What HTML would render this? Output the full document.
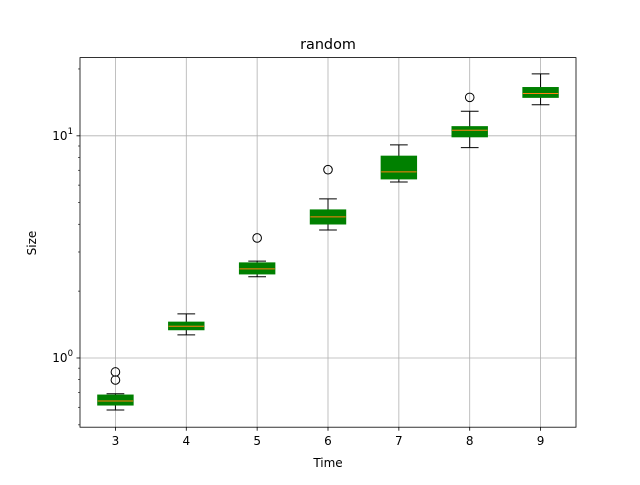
<!DOCTYPE html>
<html><head><meta charset="utf-8"><style>
body{margin:0;background:#fff;}
svg text{font-family:"DejaVu Sans","Liberation Sans",sans-serif;fill:#000;}
</style></head><body>
<svg id="chart" width="640" height="480" viewBox="0 0 640 480" xmlns="http://www.w3.org/2000/svg">
<rect width="640" height="480" fill="#fff"/>
<g id="grid"></g><g id="boxes"></g><g id="axes"></g>
<text x="328" y="49" font-size="14.4" text-anchor="middle">random</text>
<text x="328" y="467" font-size="12" text-anchor="middle">Time</text>
<text x="36" y="243" font-size="12" text-anchor="middle" transform="rotate(-90 36 243)">Size</text>
</svg>
<script>
const categories=[3,4,5,6,7,8,9];
const lowWhisker=[0.583,1.27,2.32,3.77,6.2,8.85,13.8];
const q1=[0.614,1.34,2.39,4.01,6.4,9.9,14.9];
const median=[0.64,1.39,2.52,4.32,6.88,10.6,15.5];
const q3=[0.681,1.45,2.68,4.64,8.1,11.0,16.5];
const highWhisker=[0.69,1.58,2.73,5.2,9.1,12.9,19.0];
const outliers=[[0.796,0.865],[],[3.47],[7.04],[],[14.9],[]];
const L=80,R=576,T=57.6,B=427.2,xmin=2.5,xmax=9.5,ymin=0.488,ymax=22.5;
const NS="http://www.w3.org/2000/svg";
const X=v=>L+(v-xmin)/(xmax-xmin)*(R-L);
const Y=v=>B-(Math.log10(v)-Math.log10(ymin))/(Math.log10(ymax)-Math.log10(ymin))*(B-T);
function mk(p,tag,a){const e=document.createElementNS(NS,tag);for(const k in a)e.setAttribute(k,a[k]);document.getElementById(p).appendChild(e);return e;}
// grid
categories.forEach(c=>{const e=mk('grid','line',{x1:X(c),x2:X(c),y1:T,y2:B,stroke:'#b0b0b0','stroke-width':0.8});

});
[1,10].forEach(v=>{const e=mk('grid','line',{x1:L,x2:R,y1:Y(v),y2:Y(v),stroke:'#b0b0b0','stroke-width':0.8});

});
// boxes
const hw=0.25*(R-L)/(xmax-xmin),cw=hw/2;
categories.forEach((c,i)=>{const x=X(c);
const g=mk('boxes','g',{});


const ln=(x1,y1,x2,y2,col)=>{const e=document.createElementNS(NS,'line');e.setAttribute('x1',x1);e.setAttribute('x2',x2);e.setAttribute('y1',y1);e.setAttribute('y2',y2);e.setAttribute('stroke',col||'#000');e.setAttribute('stroke-width',1);g.appendChild(e);};
ln(x,Y(lowWhisker[i]),x,Y(q1[i]));ln(x,Y(q3[i]),x,Y(highWhisker[i]));
ln(x-cw,Y(lowWhisker[i]),x+cw,Y(lowWhisker[i]));ln(x-cw,Y(highWhisker[i]),x+cw,Y(highWhisker[i]));
const r=document.createElementNS(NS,'rect');r.setAttribute('x',x-hw);r.setAttribute('y',Y(q3[i]));r.setAttribute('width',2*hw);r.setAttribute('height',Y(q1[i])-Y(q3[i]));r.setAttribute('fill','#008000');r.setAttribute('stroke','#008000');g.appendChild(r);
ln(x-hw,Y(median[i]),x+hw,Y(median[i]),'#ff7f0e');
outliers[i].forEach(o=>{const ci=document.createElementNS(NS,'circle');ci.setAttribute('cx',x);ci.setAttribute('cy',Y(o));ci.setAttribute('r',4.3);ci.setAttribute('fill','none');ci.setAttribute('stroke','#000');


g.appendChild(ci);});
});
// axes
const fr=mk('axes','rect',{x:L,y:T,width:R-L,height:B-T,fill:'none',stroke:'#000','stroke-width':0.8});


categories.forEach(c=>{mk('axes','line',{x1:X(c),x2:X(c),y1:B,y2:B+3.5,stroke:'#000','stroke-width':0.8});
const t=mk('axes','text',{x:X(c),y:B+18,'font-size':12,'text-anchor':'middle'});t.textContent=c;

});
[0.1,1,10].forEach(d=>{for(let k=1;k<10;k++){const v=d*k;if(v<ymin||v>ymax)continue;
mk('axes','line',{x1:L-(k==1?3.5:2),x2:L,y1:Y(v),y2:Y(v),stroke:'#000','stroke-width':k==1?0.8:0.6});}});
[[1,'0'],[10,'1']].forEach(([v,e])=>{const t=mk('axes','text',{x:L-7,y:Y(v)+4,'font-size':12,'text-anchor':'end'});
t.innerHTML='10<tspan dy="-6" font-size="8.5">'+e+'</tspan>';

});
</script>
</body></html>
